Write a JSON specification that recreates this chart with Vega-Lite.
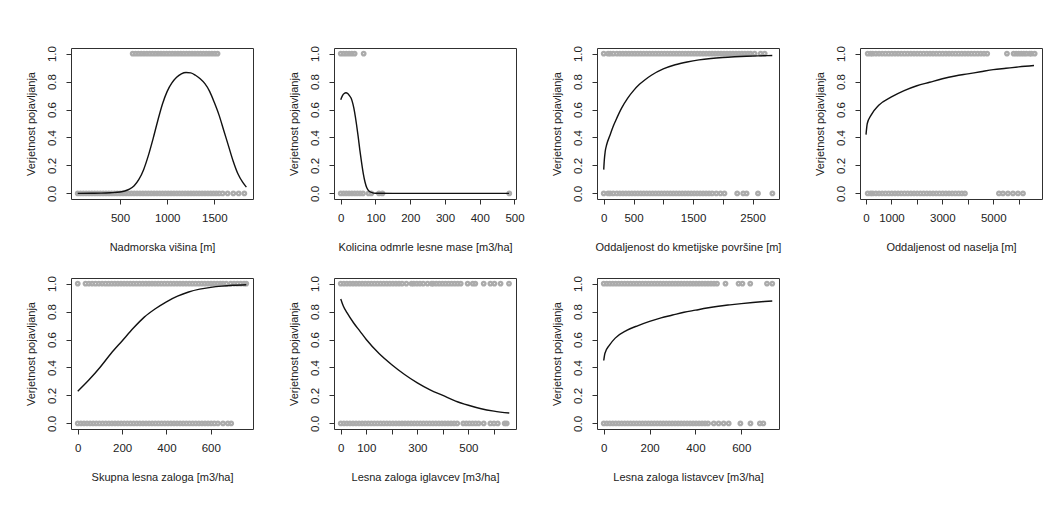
{
"$schema": "https://vega.github.io/schema/vega-lite/v6.json",
"background": "white",
"padding": {"left": 24, "top": 45, "right": 0, "bottom": 0},
"columns": 4,
"spacing": {"row": 79, "column": 81},
"bounds": "flush",
"config": {
  "font": "Liberation Sans",
  "view": {"stroke": "#303030", "strokeWidth": 1},
  "axis": {"domain": false, "grid": false, "tickColor": "#303030", "tickSize": 5, "tickWidth": 1, "labelFont": "Liberation Sans", "labelFontSize": 11.5, "labelColor": "#222222", "titleFont": "Liberation Sans", "titleFontSize": 11, "titleFontWeight": "normal", "titleColor": "#222222", "labelOverlap": false, "labelFlush": false},
  "axisX": {"labelPadding": 8, "titlePadding": 18, "format": "d"},
  "axisY": {"labelAngle": -90, "labelAlign": "center", "labelBaseline": "alphabetic", "labelPadding": 11, "titlePadding": 10},
  "point": {"shape": "circle", "filled": false, "size": 12, "stroke": "#ababab", "strokeWidth": 2.4, "opacity": 1},
  "line": {"color": "#111111", "strokeWidth": 1.4, "interpolate": "monotone"}
},
"datasets": {
"o1": [{"x":634,"y":1},{"x":664,"y":1},{"x":694,"y":1},{"x":724,"y":1},{"x":754,"y":1},{"x":784,"y":1},{"x":814,"y":1},{"x":844,"y":1},{"x":874,"y":1},{"x":904,"y":1},{"x":934,"y":1},{"x":964,"y":1},{"x":994,"y":1},{"x":1024,"y":1},{"x":1054,"y":1},{"x":1084,"y":1},{"x":1114,"y":1},{"x":1144,"y":1},{"x":1174,"y":1},{"x":1204,"y":1},{"x":1234,"y":1},{"x":1264,"y":1},{"x":1294,"y":1},{"x":1324,"y":1},{"x":1354,"y":1},{"x":1384,"y":1},{"x":1414,"y":1},{"x":1444,"y":1},{"x":1474,"y":1},{"x":1504,"y":1},{"x":1534,"y":1},
{"x":51,"y":0},{"x":81,"y":0},{"x":111,"y":0},{"x":141,"y":0},{"x":171,"y":0},{"x":201,"y":0},{"x":231,"y":0},{"x":261,"y":0},{"x":291,"y":0},{"x":321,"y":0},{"x":351,"y":0},{"x":381,"y":0},{"x":411,"y":0},{"x":441,"y":0},{"x":471,"y":0},{"x":501,"y":0},{"x":531,"y":0},{"x":561,"y":0},{"x":591,"y":0},{"x":621,"y":0},{"x":651,"y":0},{"x":681,"y":0},{"x":711,"y":0},{"x":741,"y":0},{"x":771,"y":0},{"x":801,"y":0},{"x":831,"y":0},{"x":861,"y":0},{"x":891,"y":0},{"x":921,"y":0},{"x":951,"y":0},{"x":981,"y":0},{"x":1011,"y":0},{"x":1041,"y":0},{"x":1071,"y":0},{"x":1101,"y":0},{"x":1131,"y":0},{"x":1161,"y":0},{"x":1191,"y":0},{"x":1221,"y":0},{"x":1251,"y":0},{"x":1281,"y":0},{"x":1311,"y":0},{"x":1341,"y":0},{"x":1371,"y":0},{"x":1401,"y":0},{"x":1431,"y":0},{"x":1461,"y":0},{"x":1491,"y":0},{"x":1521,"y":0},{"x":1551,"y":0},{"x":1588,"y":0},{"x":1641,"y":0},{"x":1701,"y":0},{"x":1758,"y":0},{"x":1818,"y":0}],
"f1": [{"x":50,"y":0},{"x":200,"y":0.001},{"x":300,"y":0.002},{"x":400,"y":0.005},{"x":500,"y":0.01},{"x":550,"y":0.017},{"x":600,"y":0.03},{"x":650,"y":0.055},{"x":700,"y":0.1},{"x":750,"y":0.17},{"x":800,"y":0.27},{"x":850,"y":0.39},{"x":900,"y":0.52},{"x":950,"y":0.64},{"x":1000,"y":0.73},{"x":1050,"y":0.79},{"x":1100,"y":0.83},{"x":1150,"y":0.855},{"x":1200,"y":0.865},{"x":1250,"y":0.862},{"x":1300,"y":0.845},{"x":1350,"y":0.82},{"x":1400,"y":0.785},{"x":1450,"y":0.73},{"x":1500,"y":0.65},{"x":1550,"y":0.56},{"x":1600,"y":0.45},{"x":1650,"y":0.34},{"x":1700,"y":0.23},{"x":1750,"y":0.14},{"x":1800,"y":0.08},{"x":1840,"y":0.045}],
"o2": [{"x":0,"y":1},{"x":8,"y":1},{"x":16,"y":1},{"x":24,"y":1},{"x":32,"y":1},{"x":40,"y":1},{"x":66,"y":1},
{"x":0,"y":0},{"x":8,"y":0},{"x":16,"y":0},{"x":24,"y":0},{"x":32,"y":0},{"x":40,"y":0},{"x":48,"y":0},{"x":56,"y":0},{"x":64,"y":0},{"x":80,"y":0},{"x":88,"y":0},{"x":110,"y":0},{"x":120,"y":0},{"x":485,"y":0}],
"f2": [{"x":0,"y":0.67},{"x":5,"y":0.7},{"x":10,"y":0.715},{"x":15,"y":0.72},{"x":20,"y":0.715},{"x":25,"y":0.7},{"x":30,"y":0.68},{"x":35,"y":0.64},{"x":40,"y":0.58},{"x":45,"y":0.5},{"x":50,"y":0.41},{"x":55,"y":0.31},{"x":60,"y":0.22},{"x":65,"y":0.14},{"x":70,"y":0.08},{"x":75,"y":0.04},{"x":80,"y":0.02},{"x":90,"y":0.005},{"x":100,"y":0.001},{"x":150,"y":0},{"x":300,"y":0},{"x":485,"y":0}],
"o3": [{"x":0,"y":1},{"x":73,"y":1},{"x":110,"y":1},{"x":160,"y":1},{"x":220,"y":1},{"x":270,"y":1},{"x":320,"y":1},{"x":370,"y":1},{"x":420,"y":1},{"x":470,"y":1},{"x":520,"y":1},{"x":570,"y":1},{"x":620,"y":1},{"x":670,"y":1},{"x":720,"y":1},{"x":770,"y":1},{"x":820,"y":1},{"x":870,"y":1},{"x":920,"y":1},{"x":970,"y":1},{"x":1020,"y":1},{"x":1070,"y":1},{"x":1120,"y":1},{"x":1170,"y":1},{"x":1220,"y":1},{"x":1270,"y":1},{"x":1320,"y":1},{"x":1370,"y":1},{"x":1420,"y":1},{"x":1470,"y":1},{"x":1520,"y":1},{"x":1570,"y":1},{"x":1620,"y":1},{"x":1670,"y":1},{"x":1720,"y":1},{"x":1770,"y":1},{"x":1820,"y":1},{"x":1870,"y":1},{"x":1920,"y":1},{"x":1970,"y":1},{"x":2020,"y":1},{"x":2070,"y":1},{"x":2120,"y":1},{"x":2170,"y":1},{"x":2220,"y":1},{"x":2270,"y":1},{"x":2320,"y":1},{"x":2370,"y":1},{"x":2420,"y":1},{"x":2466,"y":1},{"x":2534,"y":1},{"x":2635,"y":1},{"x":2703,"y":1},
{"x":0,"y":0},{"x":73,"y":0},{"x":110,"y":0},{"x":160,"y":0},{"x":220,"y":0},{"x":270,"y":0},{"x":320,"y":0},{"x":370,"y":0},{"x":420,"y":0},{"x":470,"y":0},{"x":520,"y":0},{"x":570,"y":0},{"x":620,"y":0},{"x":670,"y":0},{"x":720,"y":0},{"x":770,"y":0},{"x":820,"y":0},{"x":870,"y":0},{"x":920,"y":0},{"x":970,"y":0},{"x":1020,"y":0},{"x":1070,"y":0},{"x":1120,"y":0},{"x":1170,"y":0},{"x":1220,"y":0},{"x":1270,"y":0},{"x":1320,"y":0},{"x":1370,"y":0},{"x":1420,"y":0},{"x":1470,"y":0},{"x":1520,"y":0},{"x":1570,"y":0},{"x":1620,"y":0},{"x":1670,"y":0},{"x":1720,"y":0},{"x":1770,"y":0},{"x":1820,"y":0},{"x":1890,"y":0},{"x":1960,"y":0},{"x":2027,"y":0},{"x":2241,"y":0},{"x":2342,"y":0},{"x":2399,"y":0},{"x":2590,"y":0},{"x":2832,"y":0}],
"f3": [{"x":0,"y":0.17},{"x":10,"y":0.24},{"x":25,"y":0.3},{"x":50,"y":0.35},{"x":100,"y":0.41},{"x":150,"y":0.47},{"x":200,"y":0.52},{"x":300,"y":0.61},{"x":400,"y":0.68},{"x":500,"y":0.735},{"x":600,"y":0.78},{"x":700,"y":0.815},{"x":800,"y":0.845},{"x":1000,"y":0.89},{"x":1200,"y":0.92},{"x":1400,"y":0.94},{"x":1600,"y":0.955},{"x":1800,"y":0.965},{"x":2000,"y":0.972},{"x":2200,"y":0.977},{"x":2400,"y":0.981},{"x":2600,"y":0.984},{"x":2830,"y":0.986}],
"o4": [{"x":66,"y":1},{"x":180,"y":1},{"x":262,"y":1},{"x":387,"y":1},{"x":512,"y":1},{"x":637,"y":1},{"x":762,"y":1},{"x":887,"y":1},{"x":1012,"y":1},{"x":1137,"y":1},{"x":1262,"y":1},{"x":1387,"y":1},{"x":1512,"y":1},{"x":1637,"y":1},{"x":1762,"y":1},{"x":1887,"y":1},{"x":2012,"y":1},{"x":2137,"y":1},{"x":2262,"y":1},{"x":2387,"y":1},{"x":2512,"y":1},{"x":2637,"y":1},{"x":2762,"y":1},{"x":2887,"y":1},{"x":3012,"y":1},{"x":3137,"y":1},{"x":3262,"y":1},{"x":3387,"y":1},{"x":3512,"y":1},{"x":3637,"y":1},{"x":3762,"y":1},{"x":3887,"y":1},{"x":4012,"y":1},{"x":4137,"y":1},{"x":4262,"y":1},{"x":4387,"y":1},{"x":4512,"y":1},{"x":4637,"y":1},{"x":4762,"y":1},{"x":5538,"y":1},{"x":5800,"y":1},{"x":5900,"y":1},{"x":6000,"y":1},{"x":6100,"y":1},{"x":6200,"y":1},{"x":6300,"y":1},{"x":6430,"y":1},{"x":6500,"y":1},{"x":6627,"y":1},
{"x":66,"y":0},{"x":180,"y":0},{"x":262,"y":0},{"x":387,"y":0},{"x":512,"y":0},{"x":637,"y":0},{"x":762,"y":0},{"x":887,"y":0},{"x":1012,"y":0},{"x":1137,"y":0},{"x":1262,"y":0},{"x":1387,"y":0},{"x":1512,"y":0},{"x":1637,"y":0},{"x":1762,"y":0},{"x":1887,"y":0},{"x":2012,"y":0},{"x":2137,"y":0},{"x":2262,"y":0},{"x":2387,"y":0},{"x":2512,"y":0},{"x":2637,"y":0},{"x":2762,"y":0},{"x":2887,"y":0},{"x":3012,"y":0},{"x":3137,"y":0},{"x":3262,"y":0},{"x":3387,"y":0},{"x":3512,"y":0},{"x":3637,"y":0},{"x":3762,"y":0},{"x":3887,"y":0},{"x":5223,"y":0},{"x":5381,"y":0},{"x":5577,"y":0},{"x":5774,"y":0},{"x":5971,"y":0},{"x":6168,"y":0}],
"f4": [{"x":0,"y":0.42},{"x":50,"y":0.5},{"x":200,"y":0.56},{"x":500,"y":0.63},{"x":1000,"y":0.69},{"x":1500,"y":0.735},{"x":2000,"y":0.77},{"x":2500,"y":0.795},{"x":3000,"y":0.82},{"x":3500,"y":0.84},{"x":4000,"y":0.855},{"x":4500,"y":0.87},{"x":5000,"y":0.885},{"x":5500,"y":0.895},{"x":6000,"y":0.905},{"x":6600,"y":0.915}],
"o5": [{"x":0,"y":1},{"x":35,"y":1},{"x":50,"y":1},{"x":65,"y":1},{"x":80,"y":1},{"x":95,"y":1},{"x":110,"y":1},{"x":125,"y":1},{"x":139,"y":1},{"x":153,"y":1},{"x":167,"y":1},{"x":181,"y":1},{"x":195,"y":1},{"x":209,"y":1},{"x":223,"y":1},{"x":237,"y":1},{"x":251,"y":1},{"x":265,"y":1},{"x":279,"y":1},{"x":293,"y":1},{"x":307,"y":1},{"x":321,"y":1},{"x":335,"y":1},{"x":349,"y":1},{"x":363,"y":1},{"x":377,"y":1},{"x":391,"y":1},{"x":405,"y":1},{"x":419,"y":1},{"x":433,"y":1},{"x":447,"y":1},{"x":461,"y":1},{"x":475,"y":1},{"x":489,"y":1},{"x":503,"y":1},{"x":517,"y":1},{"x":531,"y":1},{"x":545,"y":1},{"x":559,"y":1},{"x":573,"y":1},{"x":587,"y":1},{"x":601,"y":1},{"x":615,"y":1},{"x":629,"y":1},{"x":643,"y":1},{"x":655,"y":1},{"x":670,"y":1},{"x":690,"y":1},{"x":705,"y":1},{"x":720,"y":1},{"x":735,"y":1},{"x":750,"y":1},{"x":760,"y":1},
{"x":0,"y":0},{"x":14,"y":0},{"x":28,"y":0},{"x":42,"y":0},{"x":56,"y":0},{"x":70,"y":0},{"x":84,"y":0},{"x":98,"y":0},{"x":112,"y":0},{"x":126,"y":0},{"x":140,"y":0},{"x":154,"y":0},{"x":168,"y":0},{"x":182,"y":0},{"x":196,"y":0},{"x":210,"y":0},{"x":224,"y":0},{"x":238,"y":0},{"x":252,"y":0},{"x":266,"y":0},{"x":280,"y":0},{"x":294,"y":0},{"x":308,"y":0},{"x":322,"y":0},{"x":336,"y":0},{"x":350,"y":0},{"x":364,"y":0},{"x":378,"y":0},{"x":392,"y":0},{"x":406,"y":0},{"x":420,"y":0},{"x":434,"y":0},{"x":448,"y":0},{"x":462,"y":0},{"x":476,"y":0},{"x":490,"y":0},{"x":504,"y":0},{"x":518,"y":0},{"x":532,"y":0},{"x":546,"y":0},{"x":560,"y":0},{"x":574,"y":0},{"x":588,"y":0},{"x":602,"y":0},{"x":616,"y":0},{"x":632,"y":0},{"x":655,"y":0},{"x":677,"y":0},{"x":692,"y":0}],
"f5": [{"x":0,"y":0.23},{"x":50,"y":0.31},{"x":100,"y":0.4},{"x":150,"y":0.5},{"x":200,"y":0.59},{"x":250,"y":0.68},{"x":300,"y":0.76},{"x":350,"y":0.82},{"x":400,"y":0.87},{"x":450,"y":0.91},{"x":500,"y":0.94},{"x":550,"y":0.96},{"x":600,"y":0.973},{"x":650,"y":0.982},{"x":700,"y":0.988},{"x":760,"y":0.992}],
"o6": [{"x":0,"y":1},{"x":12,"y":1},{"x":24,"y":1},{"x":36,"y":1},{"x":48,"y":1},{"x":60,"y":1},{"x":72,"y":1},{"x":84,"y":1},{"x":96,"y":1},{"x":108,"y":1},{"x":120,"y":1},{"x":132,"y":1},{"x":144,"y":1},{"x":156,"y":1},{"x":168,"y":1},{"x":180,"y":1},{"x":192,"y":1},{"x":204,"y":1},{"x":216,"y":1},{"x":228,"y":1},{"x":240,"y":1},{"x":257,"y":1},{"x":277,"y":1},{"x":286,"y":1},{"x":298,"y":1},{"x":310,"y":1},{"x":323,"y":1},{"x":340,"y":1},{"x":356,"y":1},{"x":362,"y":1},{"x":374,"y":1},{"x":386,"y":1},{"x":398,"y":1},{"x":410,"y":1},{"x":422,"y":1},{"x":434,"y":1},{"x":446,"y":1},{"x":458,"y":1},{"x":470,"y":1},{"x":497,"y":1},{"x":517,"y":1},{"x":527,"y":1},{"x":560,"y":1},{"x":586,"y":1},{"x":602,"y":1},{"x":626,"y":1},{"x":659,"y":1},
{"x":0,"y":0},{"x":12,"y":0},{"x":24,"y":0},{"x":36,"y":0},{"x":48,"y":0},{"x":60,"y":0},{"x":72,"y":0},{"x":84,"y":0},{"x":96,"y":0},{"x":108,"y":0},{"x":120,"y":0},{"x":132,"y":0},{"x":144,"y":0},{"x":156,"y":0},{"x":168,"y":0},{"x":180,"y":0},{"x":192,"y":0},{"x":204,"y":0},{"x":216,"y":0},{"x":228,"y":0},{"x":240,"y":0},{"x":252,"y":0},{"x":264,"y":0},{"x":276,"y":0},{"x":288,"y":0},{"x":300,"y":0},{"x":312,"y":0},{"x":324,"y":0},{"x":336,"y":0},{"x":348,"y":0},{"x":360,"y":0},{"x":372,"y":0},{"x":384,"y":0},{"x":396,"y":0},{"x":408,"y":0},{"x":420,"y":0},{"x":432,"y":0},{"x":444,"y":0},{"x":456,"y":0},{"x":480,"y":0},{"x":492,"y":0},{"x":504,"y":0},{"x":516,"y":0},{"x":528,"y":0},{"x":540,"y":0},{"x":560,"y":0},{"x":586,"y":0},{"x":600,"y":0},{"x":615,"y":0},{"x":642,"y":0},{"x":650,"y":0}],
"f6": [{"x":0,"y":0.89},{"x":10,"y":0.84},{"x":25,"y":0.79},{"x":50,"y":0.72},{"x":75,"y":0.66},{"x":100,"y":0.6},{"x":150,"y":0.5},{"x":200,"y":0.42},{"x":250,"y":0.35},{"x":300,"y":0.29},{"x":350,"y":0.24},{"x":400,"y":0.2},{"x":450,"y":0.16},{"x":500,"y":0.13},{"x":550,"y":0.105},{"x":600,"y":0.088},{"x":660,"y":0.074}],
"o7": [{"x":0,"y":1},{"x":13,"y":1},{"x":26,"y":1},{"x":39,"y":1},{"x":52,"y":1},{"x":65,"y":1},{"x":78,"y":1},{"x":91,"y":1},{"x":104,"y":1},{"x":117,"y":1},{"x":130,"y":1},{"x":143,"y":1},{"x":156,"y":1},{"x":169,"y":1},{"x":182,"y":1},{"x":195,"y":1},{"x":208,"y":1},{"x":221,"y":1},{"x":234,"y":1},{"x":247,"y":1},{"x":260,"y":1},{"x":273,"y":1},{"x":286,"y":1},{"x":299,"y":1},{"x":312,"y":1},{"x":325,"y":1},{"x":338,"y":1},{"x":351,"y":1},{"x":364,"y":1},{"x":377,"y":1},{"x":390,"y":1},{"x":403,"y":1},{"x":416,"y":1},{"x":429,"y":1},{"x":442,"y":1},{"x":455,"y":1},{"x":468,"y":1},{"x":481,"y":1},{"x":494,"y":1},{"x":531,"y":1},{"x":588,"y":1},{"x":605,"y":1},{"x":639,"y":1},{"x":712,"y":1},{"x":735,"y":1},
{"x":0,"y":0},{"x":13,"y":0},{"x":26,"y":0},{"x":39,"y":0},{"x":52,"y":0},{"x":65,"y":0},{"x":78,"y":0},{"x":91,"y":0},{"x":104,"y":0},{"x":117,"y":0},{"x":130,"y":0},{"x":143,"y":0},{"x":156,"y":0},{"x":169,"y":0},{"x":182,"y":0},{"x":195,"y":0},{"x":208,"y":0},{"x":221,"y":0},{"x":234,"y":0},{"x":247,"y":0},{"x":260,"y":0},{"x":273,"y":0},{"x":286,"y":0},{"x":299,"y":0},{"x":312,"y":0},{"x":325,"y":0},{"x":338,"y":0},{"x":351,"y":0},{"x":364,"y":0},{"x":377,"y":0},{"x":390,"y":0},{"x":403,"y":0},{"x":416,"y":0},{"x":429,"y":0},{"x":442,"y":0},{"x":455,"y":0},{"x":480,"y":0},{"x":501,"y":0},{"x":523,"y":0},{"x":545,"y":0},{"x":596,"y":0},{"x":640,"y":0},{"x":681,"y":0},{"x":696,"y":0}],
"f7": [{"x":0,"y":0.45},{"x":5,"y":0.5},{"x":25,"y":0.56},{"x":50,"y":0.61},{"x":100,"y":0.665},{"x":150,"y":0.7},{"x":200,"y":0.73},{"x":250,"y":0.755},{"x":300,"y":0.775},{"x":350,"y":0.795},{"x":400,"y":0.81},{"x":450,"y":0.825},{"x":500,"y":0.838},{"x":550,"y":0.848},{"x":600,"y":0.857},{"x":650,"y":0.865},{"x":700,"y":0.872},{"x":735,"y":0.876}]
},
"concat": [
{"width": 182, "height": 151,
 "encoding": {
  "x": {"field": "x", "type": "quantitative", "scale": {"domain": [-20, 1910], "nice": false, "zero": false}, "axis": {"values": [500, 1000, 1500], "title": "Nadmorska višina [m]"}},
  "y": {"field": "y", "type": "quantitative", "scale": {"domain": [-0.04, 1.04], "nice": false, "zero": false}, "axis": {"values": [0, 0.2, 0.4, 0.6, 0.8, 1], "format": ".1f", "title": "Verjetnost pojavljanja"}}},
 "layer": [
  {"data": {"name": "o1"}, "mark": "point"},
  {"data": {"name": "f1"}, "mark": "line"}]},
{"width": 182, "height": 151,
 "encoding": {
  "x": {"field": "x", "type": "quantitative", "scale": {"domain": [-19.4, 504.4], "nice": false, "zero": false}, "axis": {"values": [0, 100, 200, 300, 400, 500], "title": "Kolicina odmrle lesne mase [m3/ha]"}},
  "y": {"field": "y", "type": "quantitative", "scale": {"domain": [-0.04, 1.04], "nice": false, "zero": false}, "axis": {"values": [0, 0.2, 0.4, 0.6, 0.8, 1], "format": ".1f", "title": "Verjetnost pojavljanja"}}},
 "layer": [
  {"data": {"name": "o2"}, "mark": "point"},
  {"data": {"name": "f2"}, "mark": "line"}]},
{"width": 182, "height": 151,
 "encoding": {
  "x": {"field": "x", "type": "quantitative", "scale": {"domain": [-113, 2943], "nice": false, "zero": false}, "axis": {"values": [0, 500, 1000, 1500, 2000, 2500], "labelExpr": "datum.value == 1000 || datum.value == 2000 ? '' : datum.label", "title": "Oddaljenost do kmetijske površine [m]"}},
  "y": {"field": "y", "type": "quantitative", "scale": {"domain": [-0.04, 1.04], "nice": false, "zero": false}, "axis": {"values": [0, 0.2, 0.4, 0.6, 0.8, 1], "format": ".1f", "title": "Verjetnost pojavljanja"}}},
 "layer": [
  {"data": {"name": "o3"}, "mark": "point"},
  {"data": {"name": "f3"}, "mark": "line"}]},
{"width": 182, "height": 151,
 "encoding": {
  "x": {"field": "x", "type": "quantitative", "scale": {"domain": [-236, 6915], "nice": false, "zero": false}, "axis": {"values": [0, 1000, 2000, 3000, 4000, 5000, 6000], "labelExpr": "datum.value == 2000 || datum.value == 4000 || datum.value == 6000 ? '' : datum.label", "title": "Oddaljenost od naselja [m]"}},
  "y": {"field": "y", "type": "quantitative", "scale": {"domain": [-0.04, 1.04], "nice": false, "zero": false}, "axis": {"values": [0, 0.2, 0.4, 0.6, 0.8, 1], "format": ".1f", "title": "Verjetnost pojavljanja"}}},
 "layer": [
  {"data": {"name": "o4"}, "mark": "point"},
  {"data": {"name": "f4"}, "mark": "line"}]},
{"width": 182, "height": 151,
 "encoding": {
  "x": {"field": "x", "type": "quantitative", "scale": {"domain": [-30.4, 790.4], "nice": false, "zero": false}, "axis": {"values": [0, 200, 400, 600], "title": "Skupna lesna zaloga [m3/ha]"}},
  "y": {"field": "y", "type": "quantitative", "scale": {"domain": [-0.04, 1.04], "nice": false, "zero": false}, "axis": {"values": [0, 0.2, 0.4, 0.6, 0.8, 1], "format": ".1f", "title": "Verjetnost pojavljanja"}}},
 "layer": [
  {"data": {"name": "o5"}, "mark": "point"},
  {"data": {"name": "f5"}, "mark": "line"}]},
{"width": 182, "height": 151,
 "encoding": {
  "x": {"field": "x", "type": "quantitative", "scale": {"domain": [-26.4, 686.4], "nice": false, "zero": false}, "axis": {"values": [0, 100, 200, 300, 400, 500, 600], "labelExpr": "datum.value == 200 || datum.value == 400 || datum.value == 600 ? '' : datum.label", "title": "Lesna zaloga iglavcev [m3/ha]"}},
  "y": {"field": "y", "type": "quantitative", "scale": {"domain": [-0.04, 1.04], "nice": false, "zero": false}, "axis": {"values": [0, 0.2, 0.4, 0.6, 0.8, 1], "format": ".1f", "title": "Verjetnost pojavljanja"}}},
 "layer": [
  {"data": {"name": "o6"}, "mark": "point"},
  {"data": {"name": "f6"}, "mark": "line"}]},
{"width": 182, "height": 151,
 "encoding": {
  "x": {"field": "x", "type": "quantitative", "scale": {"domain": [-29.4, 764.4], "nice": false, "zero": false}, "axis": {"values": [0, 200, 400, 600], "title": "Lesna zaloga listavcev [m3/ha]"}},
  "y": {"field": "y", "type": "quantitative", "scale": {"domain": [-0.04, 1.04], "nice": false, "zero": false}, "axis": {"values": [0, 0.2, 0.4, 0.6, 0.8, 1], "format": ".1f", "title": "Verjetnost pojavljanja"}}},
 "layer": [
  {"data": {"name": "o7"}, "mark": "point"},
  {"data": {"name": "f7"}, "mark": "line"}]}
]
}
